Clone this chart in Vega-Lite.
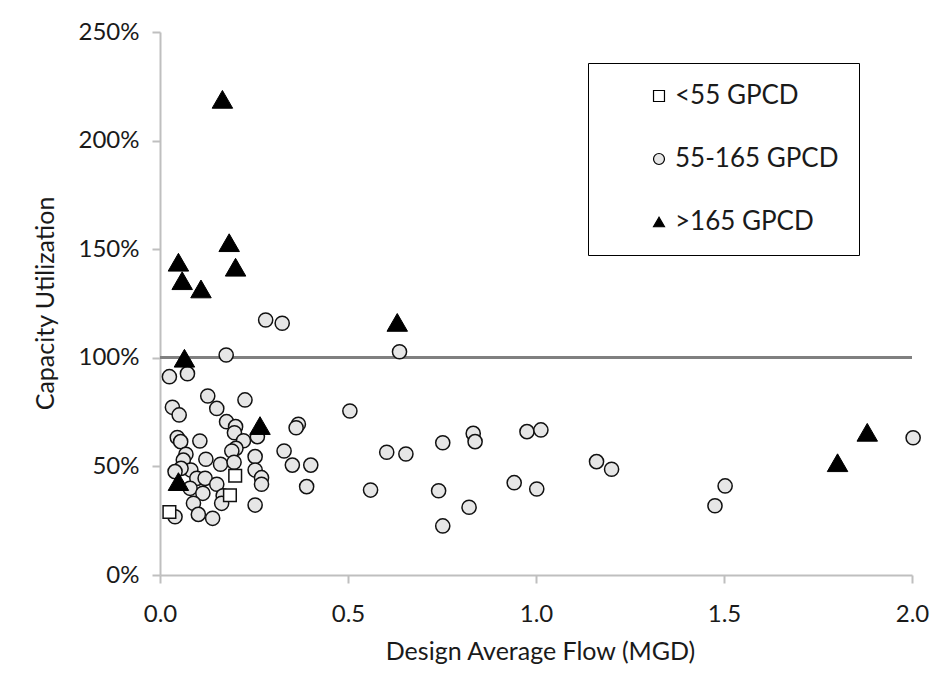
{
  "$schema": "https://vega.github.io/schema/vega-lite/v6.json",
  "autosize": "none",
  "width": 752,
  "height": 543,
  "padding": {"left": 160, "top": 32, "right": 36, "bottom": 105},
  "background": "white",
  "config": {
    "view": {"stroke": null},
    "font": "Lato",
    "axis": {
      "grid": false,
      "domainColor": "#bfbfbf",
      "domainWidth": 2,
      "tickColor": "#bfbfbf",
      "tickWidth": 2,
      "tickSize": 8,
      "labelFont": "Lato",
      "labelFontSize": 24,
      "labelColor": "#1a1a1a",
      "titleFont": "Lato",
      "titleFontSize": 25,
      "titleFontWeight": "normal",
      "titleColor": "#1a1a1a"
    },
    "legend": {
      "strokeColor": "#000000",
      "fillColor": "white",
      "padding": 20,
      "symbolOffset": 38,
      "rowPadding": 37,
      "labelOffset": 3,
      "labelFont": "Lato",
      "labelFontSize": 26,
      "labelColor": "#1a1a1a",
      "labelLimit": 400,
      "symbolSize": 120,
      "symbolStrokeWidth": 1.2
    }
  },
  "data": {
    "values": [
      {"flow": 0.200, "util": 0.457, "group": "<55 GPCD"},
      {"flow": 0.186, "util": 0.367, "group": "<55 GPCD"},
      {"flow": 0.025, "util": 0.290, "group": "<55 GPCD"},

      {"flow": 0.176, "util": 1.013, "group": "55-165 GPCD"},
      {"flow": 0.025, "util": 0.913, "group": "55-165 GPCD"},
      {"flow": 0.073, "util": 0.927, "group": "55-165 GPCD"},
      {"flow": 0.127, "util": 0.824, "group": "55-165 GPCD"},
      {"flow": 0.226, "util": 0.806, "group": "55-165 GPCD"},
      {"flow": 0.151, "util": 0.767, "group": "55-165 GPCD"},
      {"flow": 0.033, "util": 0.772, "group": "55-165 GPCD"},
      {"flow": 0.051, "util": 0.737, "group": "55-165 GPCD"},
      {"flow": 0.177, "util": 0.706, "group": "55-165 GPCD"},
      {"flow": 0.201, "util": 0.683, "group": "55-165 GPCD"},
      {"flow": 0.259, "util": 0.637, "group": "55-165 GPCD"},
      {"flow": 0.368, "util": 0.694, "group": "55-165 GPCD"},
      {"flow": 0.362, "util": 0.678, "group": "55-165 GPCD"},
      {"flow": 0.198, "util": 0.655, "group": "55-165 GPCD"},
      {"flow": 0.222, "util": 0.618, "group": "55-165 GPCD"},
      {"flow": 0.046, "util": 0.633, "group": "55-165 GPCD"},
      {"flow": 0.055, "util": 0.614, "group": "55-165 GPCD"},
      {"flow": 0.106, "util": 0.617, "group": "55-165 GPCD"},
      {"flow": 0.202, "util": 0.583, "group": "55-165 GPCD"},
      {"flow": 0.191, "util": 0.571, "group": "55-165 GPCD"},
      {"flow": 0.069, "util": 0.556, "group": "55-165 GPCD"},
      {"flow": 0.330, "util": 0.571, "group": "55-165 GPCD"},
      {"flow": 0.253, "util": 0.545, "group": "55-165 GPCD"},
      {"flow": 0.062, "util": 0.529, "group": "55-165 GPCD"},
      {"flow": 0.122, "util": 0.533, "group": "55-165 GPCD"},
      {"flow": 0.161, "util": 0.510, "group": "55-165 GPCD"},
      {"flow": 0.197, "util": 0.519, "group": "55-165 GPCD"},
      {"flow": 0.352, "util": 0.506, "group": "55-165 GPCD"},
      {"flow": 0.401, "util": 0.506, "group": "55-165 GPCD"},
      {"flow": 0.082, "util": 0.483, "group": "55-165 GPCD"},
      {"flow": 0.056, "util": 0.491, "group": "55-165 GPCD"},
      {"flow": 0.040, "util": 0.476, "group": "55-165 GPCD"},
      {"flow": 0.253, "util": 0.483, "group": "55-165 GPCD"},
      {"flow": 0.270, "util": 0.448, "group": "55-165 GPCD"},
      {"flow": 0.270, "util": 0.418, "group": "55-165 GPCD"},
      {"flow": 0.098, "util": 0.445, "group": "55-165 GPCD"},
      {"flow": 0.120, "util": 0.445, "group": "55-165 GPCD"},
      {"flow": 0.151, "util": 0.418, "group": "55-165 GPCD"},
      {"flow": 0.080, "util": 0.399, "group": "55-165 GPCD"},
      {"flow": 0.114, "util": 0.376, "group": "55-165 GPCD"},
      {"flow": 0.168, "util": 0.365, "group": "55-165 GPCD"},
      {"flow": 0.164, "util": 0.330, "group": "55-165 GPCD"},
      {"flow": 0.089, "util": 0.330, "group": "55-165 GPCD"},
      {"flow": 0.253, "util": 0.322, "group": "55-165 GPCD"},
      {"flow": 0.040, "util": 0.268, "group": "55-165 GPCD"},
      {"flow": 0.102, "util": 0.279, "group": "55-165 GPCD"},
      {"flow": 0.140, "util": 0.261, "group": "55-165 GPCD"},
      {"flow": 0.390, "util": 0.407, "group": "55-165 GPCD"},
      {"flow": 0.281, "util": 1.174, "group": "55-165 GPCD"},
      {"flow": 0.325, "util": 1.159, "group": "55-165 GPCD"},
      {"flow": 0.637, "util": 1.028, "group": "55-165 GPCD"},
      {"flow": 0.505, "util": 0.755, "group": "55-165 GPCD"},
      {"flow": 0.603, "util": 0.565, "group": "55-165 GPCD"},
      {"flow": 0.654, "util": 0.557, "group": "55-165 GPCD"},
      {"flow": 0.560, "util": 0.391, "group": "55-165 GPCD"},
      {"flow": 0.752, "util": 0.609, "group": "55-165 GPCD"},
      {"flow": 0.833, "util": 0.652, "group": "55-165 GPCD"},
      {"flow": 0.838, "util": 0.614, "group": "55-165 GPCD"},
      {"flow": 0.741, "util": 0.388, "group": "55-165 GPCD"},
      {"flow": 0.822, "util": 0.312, "group": "55-165 GPCD"},
      {"flow": 0.752, "util": 0.226, "group": "55-165 GPCD"},
      {"flow": 0.976, "util": 0.660, "group": "55-165 GPCD"},
      {"flow": 1.013, "util": 0.668, "group": "55-165 GPCD"},
      {"flow": 0.942, "util": 0.425, "group": "55-165 GPCD"},
      {"flow": 1.002, "util": 0.396, "group": "55-165 GPCD"},
      {"flow": 1.161, "util": 0.522, "group": "55-165 GPCD"},
      {"flow": 1.201, "util": 0.487, "group": "55-165 GPCD"},
      {"flow": 1.503, "util": 0.410, "group": "55-165 GPCD"},
      {"flow": 1.476, "util": 0.319, "group": "55-165 GPCD"},
      {"flow": 2.003, "util": 0.632, "group": "55-165 GPCD"},

      {"flow": 0.166, "util": 2.190, "group": ">165 GPCD"},
      {"flow": 0.184, "util": 1.530, "group": ">165 GPCD"},
      {"flow": 0.049, "util": 1.440, "group": ">165 GPCD"},
      {"flow": 0.201, "util": 1.417, "group": ">165 GPCD"},
      {"flow": 0.059, "util": 1.355, "group": ">165 GPCD"},
      {"flow": 0.109, "util": 1.317, "group": ">165 GPCD"},
      {"flow": 0.631, "util": 1.163, "group": ">165 GPCD"},
      {"flow": 0.065, "util": 0.998, "group": ">165 GPCD"},
      {"flow": 0.266, "util": 0.688, "group": ">165 GPCD"},
      {"flow": 0.049, "util": 0.430, "group": ">165 GPCD"},
      {"flow": 1.881, "util": 0.657, "group": ">165 GPCD"},
      {"flow": 1.802, "util": 0.517, "group": ">165 GPCD"}
    ]
  },
  "encoding": {
    "x": {
      "field": "flow",
      "type": "quantitative",
      "title": "Design Average Flow (MGD)",
      "scale": {"domain": [0, 2], "nice": false},
      "axis": {
        "values": [0, 0.5, 1, 1.5, 2],
        "format": ".1f",
        "labelFlush": false,
        "labelPadding": 19,
        "titleX": 380,
        "titleY": 76,
        "titleBaseline": "middle"
      }
    },
    "y": {
      "field": "util",
      "type": "quantitative",
      "title": "Capacity Utilization",
      "scale": {"domain": [0, 2.5], "nice": false},
      "axis": {
        "values": [0, 0.5, 1, 1.5, 2, 2.5],
        "format": ".0%",
        "labelPadding": 13,
        "titleX": -115,
        "titleY": 271,
        "titleBaseline": "middle"
      }
    },
    "shape": {
      "field": "group",
      "type": "nominal",
      "scale": {
        "domain": ["<55 GPCD", "55-165 GPCD", ">165 GPCD"],
        "range": ["square", "circle", "triangle-up"]
      },
      "legend": {
        "title": null,
        "orient": "none",
        "legendX": 428,
        "legendY": 31,
        "encoding": {
          "symbols": {
            "stroke": {"value": "#000000"},
            "strokeWidth": {"value": 1.2}
          }
        }
      }
    },
    "fill": {
      "field": "group",
      "type": "nominal",
      "scale": {
        "domain": ["<55 GPCD", "55-165 GPCD", ">165 GPCD"],
        "range": ["#ffffff", "#e6e6e6", "#000000"]
      },
      "legend": {
        "title": null,
        "orient": "none",
        "legendX": 428,
        "legendY": 31,
        "encoding": {
          "symbols": {
            "stroke": {"value": "#000000"},
            "strokeWidth": {"value": 1.2}
          }
        }
      }
    }
  },
  "layer": [
    {
      "mark": {"type": "rule", "color": "#808080", "strokeWidth": 2.5},
      "encoding": {
        "y": {"datum": 1, "type": "quantitative"},
        "x": null,
        "shape": null,
        "fill": null
      }
    },
    {
      "transform": [{"filter": "datum.group === '55-165 GPCD'"}],
      "mark": {"type": "point", "filled": false, "stroke": "#111111", "strokeWidth": 1.5, "opacity": 1, "fillOpacity": 1, "size": 200}
    },
    {
      "transform": [{"filter": "datum.group === '<55 GPCD'"}],
      "mark": {"type": "point", "filled": false, "stroke": "#111111", "strokeWidth": 1.5, "opacity": 1, "fillOpacity": 1, "size": 160}
    },
    {
      "transform": [{"filter": "datum.group === '>165 GPCD'"}],
      "mark": {"type": "point", "filled": false, "stroke": "#000000", "strokeWidth": 1, "opacity": 1, "fillOpacity": 1, "size": 420}
    }
  ]
}
